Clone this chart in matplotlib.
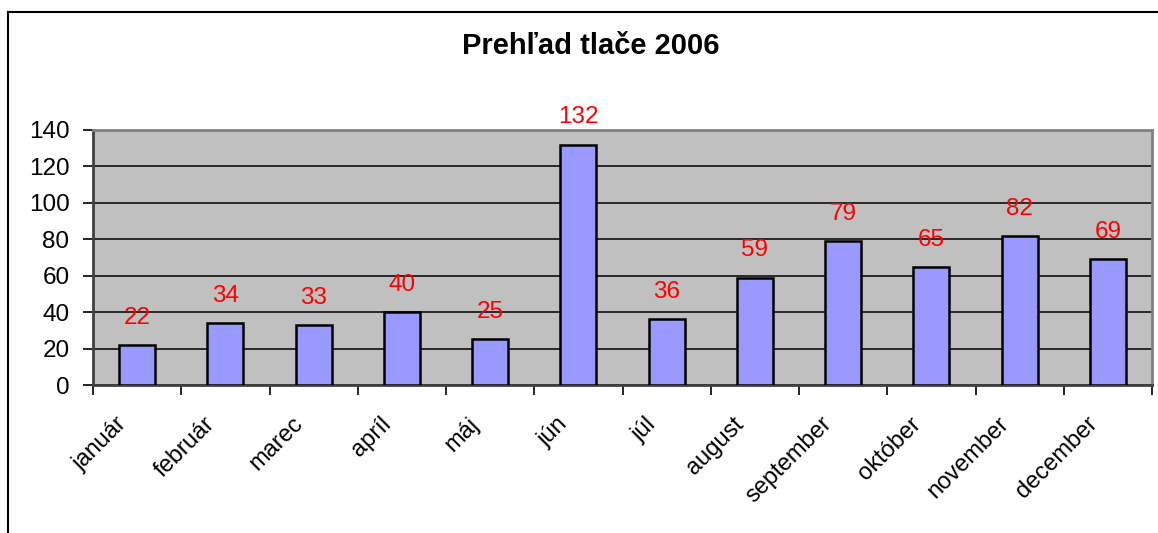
import matplotlib
matplotlib.use("Agg")
import matplotlib.pyplot as plt
import matplotlib.transforms as mtransforms
from matplotlib.lines import Line2D

months = ["január", "február", "marec", "apríl", "máj", "jún", "júl",
          "august", "september", "október", "november", "december"]
values = [22, 34, 33, 40, 25, 132, 36, 59, 79, 65, 82, 69]
yticks = [0, 20, 40, 60, 80, 100, 120, 140]
title = "Prehľad tlače 2006"

plt.rcParams['font.family'] = ['Liberation Sans', 'DejaVu Sans']

fig = plt.figure(figsize=(11.58, 5.33), dpi=100)
ax = fig.add_axes([93/1158, 1-385/533, (1152-93)/1158, (385-130)/533])

ax.set_facecolor('#C0C0C0')
x = [i + 0.5 for i in range(len(months))]
ax.bar(x, values, width=0.41, color='#9999FF', edgecolor='black', linewidth=1.8, zorder=3)

for xi, v in zip(x, values):
    ax.annotate(str(v), (xi, v), xytext=(0, 19.5), textcoords='offset points',
                ha='center', va='center', color='red', fontsize=17.5, zorder=5,
                annotation_clip=False)

ax.set_xlim(0, 12)
ax.set_ylim(0, 140)
ax.set_yticks(yticks)
ax.set_yticklabels([str(t) for t in yticks], fontsize=17.5)
ax.yaxis.grid(True, color='black', linewidth=1.1, zorder=1)
ax.set_axisbelow(True)

ax.set_xticks(range(13))
ax.set_xticklabels([])
ax.tick_params(axis='x', which='major', length=7, width=1.2, color='black')
ax.tick_params(axis='y', length=7, width=1.2, color='black', pad=10)

base = mtransforms.blended_transform_factory(ax.transData, ax.transAxes)
off = mtransforms.ScaledTranslation(-22/100, -28/100, fig.dpi_scale_trans)
for xi, m in zip(x, months):
    ax.text(xi, 0, m, transform=base + off, rotation=45, ha='right', va='top',
            rotation_mode='anchor', fontsize=17)

for s in ['top', 'right']:
    ax.spines[s].set_color('#808080')
    ax.spines[s].set_linewidth(2)
for s in ['left', 'bottom']:
    ax.spines[s].set_color('#404040')
    ax.spines[s].set_linewidth(2)

fig.text(591/1158, 1-46/533, title, ha='center', va='center', fontsize=21, fontweight='bold')

fig.add_artist(Line2D([8/1158, 8/1158], [0, 1-11.5/533], color='black', linewidth=1.5, transform=fig.transFigure))
fig.add_artist(Line2D([8/1158, 1], [1-11.5/533, 1-11.5/533], color='black', linewidth=1.5, transform=fig.transFigure))

fig.savefig("out.png", dpi=100)
